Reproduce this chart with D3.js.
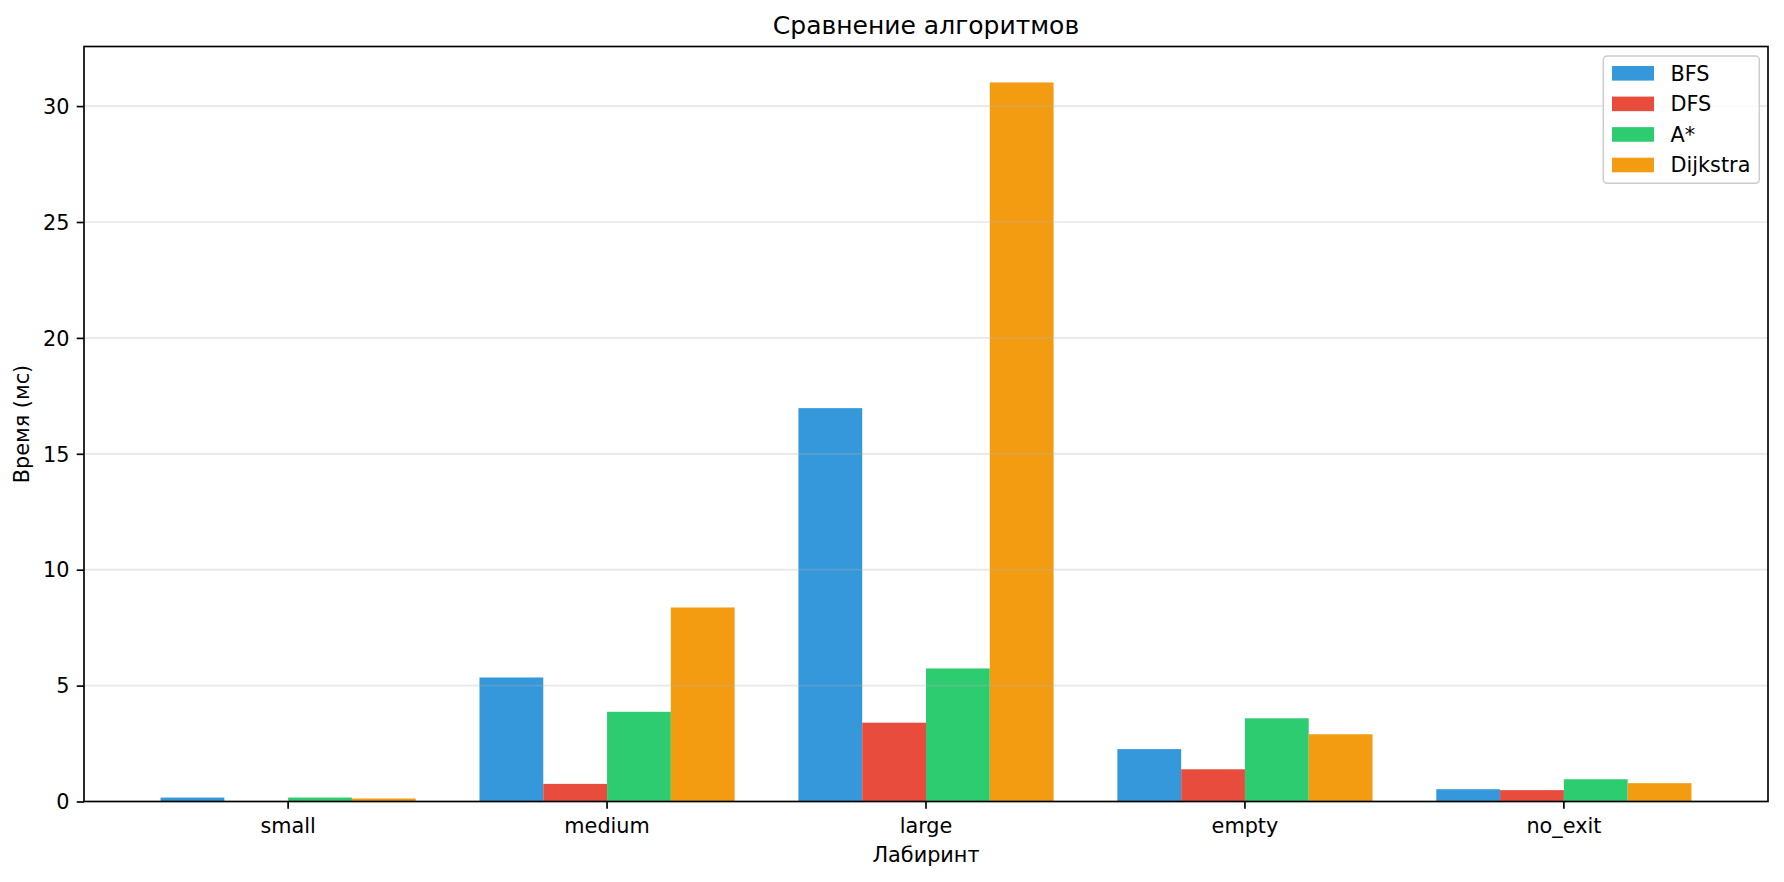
<!DOCTYPE html>
<html>
<head>
<meta charset="utf-8">
<script src="https://cdn.jsdelivr.net/npm/d3@7/dist/d3.min.js"></script>
<style>
  html, body { margin: 0; padding: 0; background: #fff; }
  svg { display: block; }
  text { font-family: "DejaVu Sans", sans-serif; fill: #000; }
</style>
</head>
<body>
<svg id="chart" width="1784" height="882"></svg>
<script>
// ---- Data ----
const categories = ["small", "medium", "large", "empty", "no_exit"];
const seriesNames = ["BFS", "DFS", "A*", "Dijkstra"];
const seriesColors = ["#3498db", "#e74c3c", "#2ecc71", "#f39c12"];
const bfsValues = [0.17, 5.35, 16.97, 2.26, 0.53];
const dfsValues = [0.02, 0.76, 3.40, 1.39, 0.49];
const astarValues = [0.17, 3.87, 5.74, 3.59, 0.96];
const dijkstraValues = [0.13, 8.37, 31.02, 2.90, 0.79];
const yTicks = [0, 5, 10, 15, 20, 25, 30];
const titleText = "Сравнение алгоритмов";
const xLabelText = "Лабиринт";
const yLabelText = "Время (мс)";

const seriesValues = [bfsValues, dfsValues, astarValues, dijkstraValues];

// ---- Layout ----
const svg = d3.select("#chart");
const mLeft = 84, mRight = 1768, mTop = 46.5, mBottom = 801.5;
const tickLen = 7.3, tickPad = 7.3;
const lw = 1.67;
const fs = 20.8, titleFs = 25;

const maxVal = d3.max(seriesValues.flat());
const y = d3.scaleLinear().domain([0, maxVal * 1.05]).range([mBottom, mTop]);

const x0 = d3.scaleBand().domain(categories).range([mLeft, mRight])
  .paddingInner(0.2).paddingOuter(0.24);
const x1 = d3.scaleBand().domain(seriesNames).range([0, x0.bandwidth()]).padding(0);

// ---- Bars ----
const rows = [];
categories.forEach((c, i) => {
  seriesNames.forEach((s, j) => {
    rows.push({ cat: c, series: s, value: seriesValues[j][i], color: seriesColors[j] });
  });
});

svg.append("g").selectAll("rect").data(rows).join("rect")
  .attr("x", d => x0(d.cat) + x1(d.series))
  .attr("width", x1.bandwidth())
  .attr("y", d => y(d.value))
  .attr("height", d => y(0) - y(d.value))
  .attr("fill", d => d.color);

// ---- Grid (drawn above bars, as in reference) ----
svg.append("g").selectAll("line").data(yTicks).join("line")
  .attr("x1", mLeft).attr("x2", mRight)
  .attr("y1", d => y(d)).attr("y2", d => y(d))
  .attr("stroke", "#b0b0b0").attr("stroke-opacity", 0.3)
  .attr("stroke-width", lw);

// ---- Axes ----
const yAxis = d3.axisLeft(y).tickValues(yTicks).tickSize(tickLen).tickPadding(tickPad)
  .tickFormat(d3.format("d"));
const gy = svg.append("g").attr("transform", `translate(${mLeft},0)`).call(yAxis);
gy.select(".domain").remove();
gy.selectAll(".tick line").attr("stroke", "#000").attr("stroke-width", lw);
gy.selectAll(".tick text").attr("font-size", fs).attr("fill", "#000")
  .attr("font-family", "DejaVu Sans").attr("dy", "0.35em");

const xAxis = d3.axisBottom(x0).tickSize(tickLen).tickPadding(tickPad);
const gx = svg.append("g").attr("transform", `translate(0,${mBottom})`).call(xAxis);
gx.select(".domain").remove();
gx.selectAll(".tick line").attr("stroke", "#000").attr("stroke-width", lw);
gx.selectAll(".tick text").attr("font-size", fs).attr("fill", "#000")
  .attr("font-family", "DejaVu Sans").attr("dy", null).attr("y", 31.5);

// Spines (full frame)
svg.append("rect")
  .attr("x", mLeft).attr("y", mTop)
  .attr("width", mRight - mLeft).attr("height", mBottom - mTop)
  .attr("fill", "none").attr("stroke", "#000").attr("stroke-width", lw);

// ---- Titles ----
svg.append("text").attr("x", (mLeft + mRight) / 2).attr("y", 34)
  .attr("text-anchor", "middle").attr("font-size", titleFs).text(titleText);

svg.append("text").attr("x", (mLeft + mRight) / 2).attr("y", 862)
  .attr("text-anchor", "middle").attr("font-size", fs).text(xLabelText);

svg.append("text")
  .attr("transform", `translate(29,${(mTop + mBottom) / 2}) rotate(-90)`)
  .attr("text-anchor", "middle").attr("font-size", fs).text(yLabelText);

// ---- Legend ----
const legX = 1603.3, legY = 56, legW = 156, legH = 127.3;
const leg = svg.append("g");
leg.append("rect")
  .attr("x", legX).attr("y", legY).attr("width", legW).attr("height", legH)
  .attr("rx", 4).attr("ry", 4)
  .attr("fill", "rgba(255,255,255,0.8)")
  .attr("stroke", "#cccccc").attr("stroke-width", 1.5);

const legRow = d3.scalePoint().domain(seriesNames).range([73.3, 165]);
const items = leg.selectAll("g.item").data(seriesNames).join("g").attr("class", "item");
items.append("rect")
  .attr("x", 1612).attr("width", 42)
  .attr("y", d => legRow(d) - 7.3).attr("height", 14.6)
  .attr("fill", (d, i) => seriesColors[i]);
items.append("text")
  .attr("x", 1670.5).attr("y", d => legRow(d)).attr("dy", "0.36em")
  .attr("font-size", fs).text(d => d);
</script>
</body>
</html>
